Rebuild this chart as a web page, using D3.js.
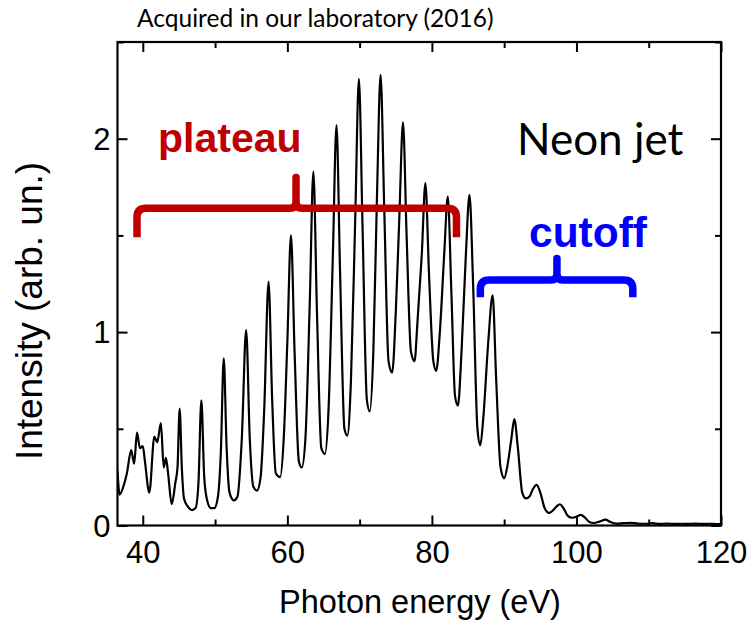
<!DOCTYPE html>
<html><head><meta charset="utf-8">
<script src="https://cdn.jsdelivr.net/npm/d3@7"></script>
<style>body{margin:0;background:#fff;}svg{display:block;}</style>
</head><body><svg id="c" width="750" height="623"></svg>
<script>
// ---- data ----
const energy = [36.5,36.8,37.3,37.8,38.4,38.8,39.2,39.6,40.0,40.3,40.9,41.6,42.0,42.5,42.9,43.2,43.5,44.0,44.5,44.8,
 45.1,45.4,45.7,46.2,46.8,47.3,47.7,48.1,48.5,48.9,49.4,49.9,50.4,50.8,51.2,51.6,52.0,52.6,53.1,53.7,
 54.3,54.8,55.3,55.8,56.3,56.8,57.4,57.9,58.4,59.0,59.5,60.0,60.5,61.0,61.6,62.0,62.5,63.1,63.6,64.1,
 64.7,65.2,65.7,66.3,66.8,67.3,67.9,68.3,68.8,69.4,69.9,70.4,71.0,71.4,71.9,72.4,72.9,73.4,74.0,74.5,
 75.0,75.5,76.0,76.5,77.1,77.6,78.0,78.6,79.1,79.6,80.2,80.6,81.1,81.7,82.2,82.7,83.2,83.6,84.1,84.7,
 85.2,85.7,86.3,86.7,87.1,87.8,88.4,88.9,89.5,90.0,90.5,91.0,91.4,91.9,92.5,93.0,93.5,94.0,94.5,95.0,
 95.6,96.2,96.8,97.3,97.7,98.2,98.8,99.4,100.0,100.6,101.2,101.8,102.4,103.2,104.0,104.7,105.5,106.5,107.5,108.5,
 109.5,110.5,111.5,112.5,113.5,114.5,115.5,116.5,117.5,118.5,119.5,120.0];
const intensity = [0.28,0.16,0.20,0.27,0.39,0.32,0.48,0.40,0.41,0.33,0.17,0.46,0.43,0.53,0.30,0.35,0.27,0.11,0.22,0.30,
 0.605,0.30,0.14,0.10,0.08,0.09,0.22,0.647,0.25,0.13,0.09,0.09,0.15,0.38,0.864,0.40,0.17,0.13,0.15,0.45,
 1.01,0.45,0.20,0.18,0.25,0.60,1.26,0.65,0.27,0.25,0.45,0.95,1.50,0.90,0.33,0.30,0.45,1.15,1.83,1.10,
 0.40,0.37,0.60,1.40,2.07,1.30,0.50,0.465,0.75,1.60,2.31,1.55,0.65,0.59,0.90,1.70,2.33,1.65,0.85,0.79,
 1.10,1.60,2.085,1.50,0.90,0.85,1.05,1.40,1.77,1.30,0.85,0.80,1.00,1.40,1.70,1.20,0.67,0.62,0.90,1.40,
 1.71,1.25,0.50,0.415,0.55,0.95,1.19,0.75,0.30,0.245,0.32,0.45,0.55,0.40,0.17,0.14,0.15,0.19,0.21,0.17,
 0.09,0.065,0.08,0.10,0.11,0.09,0.05,0.04,0.045,0.055,0.04,0.018,0.013,0.02,0.03,0.018,0.010,0.012,0.014,0.010,
 0.009,0.012,0.008,0.010,0.008,0.009,0.008,0.010,0.008,0.009,0.007,0.008];
const xMajorTicks = [40,60,80,100,120];
const xMinorTicks = [50,70,90,110];
const yMajorTicks = [0,1,2];
const yMinorTicks = [0.5,1.5,2.5];
// braces: [start eV, centre eV, end eV], [end-foot, bar, tip] intensity
const plateauX = [39.2, 61.2, 83.4], plateauY = [1.49, 1.64, 1.80];
const cutoffX = [86.7, 97.3, 107.8], cutoffY = [1.18, 1.27, 1.38];

// ---- layout ----
const L = 117.5, R = 721, T = 42, B = 525.5;
const x = d3.scaleLinear().domain([36.5, 120]).range([L, R]);
const y = d3.scaleLinear().domain([0, 2.5]).range([B, T]);
const svg = d3.select("#c");
const pts = energy.map((e, i) => [e, intensity[i]]);

svg.append("clipPath").attr("id","clip").append("rect")
  .attr("x", L).attr("y", T).attr("width", R - L).attr("height", B - T);

svg.append("path").datum(pts)
  .attr("clip-path","url(#clip)")
  .attr("fill","none").attr("stroke","#000").attr("stroke-width",2.2)
  .attr("stroke-linejoin","round")
  .attr("d", d3.line().x(d => x(d[0])).y(d => y(d[1])).curve(d3.curveMonotoneX));

// frame
svg.append("rect").attr("x", L).attr("y", T).attr("width", R - L).attr("height", B - T)
  .attr("fill","none").attr("stroke","#000").attr("stroke-width",2.2);

// ticks (inside, all four sides)
const tickFont = "'Liberation Sans', Arial, sans-serif";
function addAxis(gen, tr, vals, size, labels) {
  const g = svg.append("g").attr("transform", tr)
    .call(gen.tickValues(vals).tickSizeInner(size).tickSizeOuter(0)
      .tickFormat(labels ? d3.format("d") : ""));
  g.select(".domain").remove();
  g.selectAll(".tick line").attr("stroke","#000").attr("stroke-width",2);
  g.selectAll(".tick text").attr("font-family", tickFont).attr("font-size", 31).attr("fill","#000");
  return g;
}
addAxis(d3.axisTop(x), `translate(0,${B})`, xMajorTicks, 10, false);
addAxis(d3.axisTop(x), `translate(0,${B})`, xMinorTicks, 6, false);
addAxis(d3.axisBottom(x), `translate(0,${T})`, xMajorTicks, 10, false);
addAxis(d3.axisBottom(x), `translate(0,${T})`, xMinorTicks, 6, false);
addAxis(d3.axisRight(y), `translate(${L},0)`, yMajorTicks, 10, false);
addAxis(d3.axisRight(y), `translate(${L},0)`, yMinorTicks, 6, false);
addAxis(d3.axisLeft(y), `translate(${R},0)`, yMajorTicks, 10, false);
addAxis(d3.axisLeft(y), `translate(${R},0)`, yMinorTicks, 6, false);
// tick labels
const xl = addAxis(d3.axisBottom(x), `translate(0,${B})`, xMajorTicks, 0, true);
xl.selectAll(".tick text").attr("dy", null).attr("y", 37);
const yl = addAxis(d3.axisLeft(y), `translate(${L},0)`, yMajorTicks, 0, true);
yl.selectAll(".tick text").attr("x", -7).attr("dy", "0.35em");

// axis titles
svg.append("text").attr("x", 420).attr("y", 613).attr("text-anchor","middle")
  .attr("font-family", tickFont).attr("font-size", 32.5).text("Photon energy (eV)");
svg.append("text").attr("transform","translate(42,311) rotate(-90)").attr("text-anchor","middle")
  .attr("font-family", tickFont).attr("font-size", 37).text("Intensity (arb. un.)");

// top caption
svg.append("text").attr("x", 137).attr("y", 27)
  .attr("font-family","Lato, 'Open Sans', sans-serif").attr("font-size", 24.5).text("Acquired in our laboratory (2016)");
svg.append("text").attr("x", 517).attr("y", 155)
  .attr("font-family","Lato, 'Open Sans', sans-serif").attr("font-size", 44).text("Neon jet");

// braces
function brace(bx, by, color) {
  const x0 = x(bx[0]), xc = x(bx[1]), x1 = x(bx[2]);
  const yb = y(by[0]), yh = y(by[1]), yt = y(by[2]);
  const r = 9, c = 6;
  const p = d3.path();
  p.moveTo(x0, yb); p.lineTo(x0, yh + r); p.quadraticCurveTo(x0, yh, x0 + r, yh);
  p.lineTo(xc - c, yh); p.quadraticCurveTo(xc, yh, xc, yh - c); p.lineTo(xc, yt);
  p.lineTo(xc, yh - c); p.quadraticCurveTo(xc, yh, xc + c, yh);
  p.lineTo(x1 - r, yh); p.quadraticCurveTo(x1, yh, x1, yh + r); p.lineTo(x1, yb);
  svg.append("path").attr("d", p.toString()).attr("fill","none").attr("stroke", color)
    .attr("stroke-width", 7.5).attr("stroke-linejoin","round");
}
brace(plateauX, plateauY, "#c00000");
brace(cutoffX, cutoffY, "#0000ff");

svg.append("text").attr("x", 158).attr("y", 152).attr("fill","#c00000").attr("font-weight","bold")
  .attr("font-family", tickFont).attr("font-size", 41).text("plateau");
svg.append("text").attr("x", 529).attr("y", 247).attr("fill","#0000ff").attr("font-weight","bold")
  .attr("font-family", tickFont).attr("font-size", 42.5).text("cutoff");
</script></body></html>
